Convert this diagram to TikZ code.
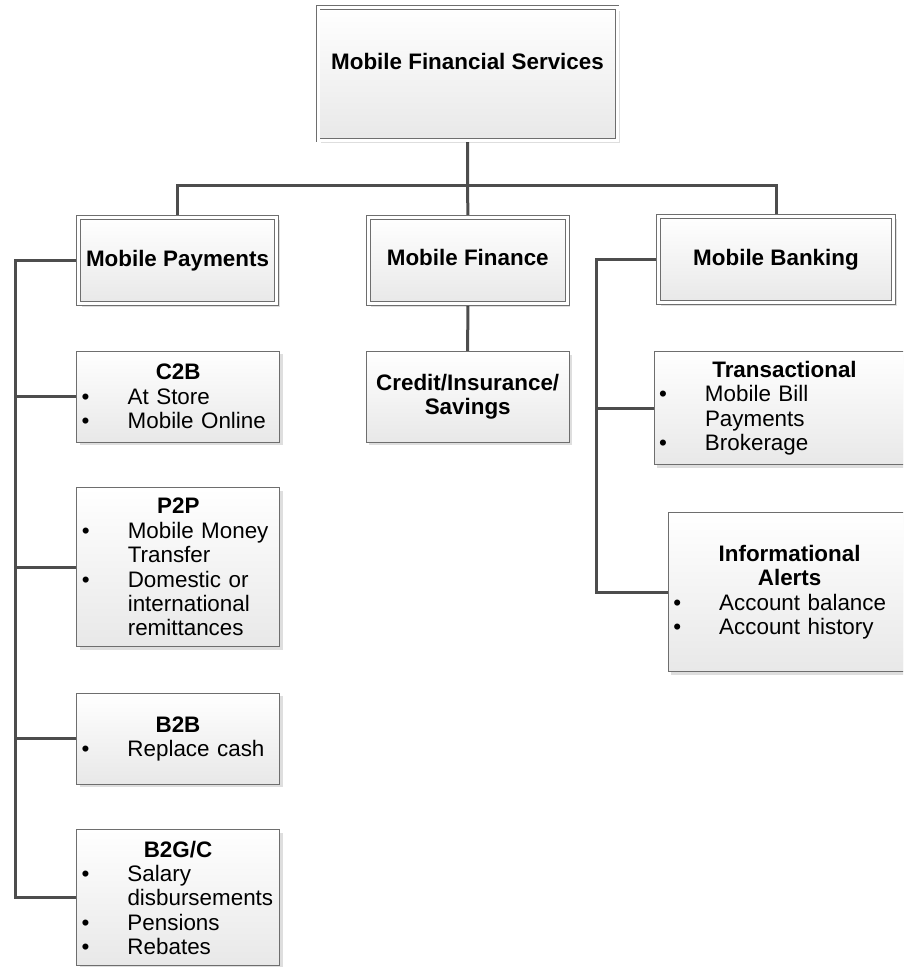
\documentclass[tikz,border=0pt]{standalone}
\usepackage{fontspec}
\setmainfont{Liberation Sans}
\usetikzlibrary{shadows,backgrounds}

\definecolor{linkgray}{HTML}{4D4D4D}
\definecolor{framegray}{HTML}{6E6E6E}
\newcommand\panelfont{\fontsize{22.4}{24.4}\selectfont}
\newcommand\boxhead[1]{\makebox[\hsize][c]{\bfseries #1}}
\newcommand\bul[1]{\makebox[\hsize][l]{\makebox[46pt][l]{\textbullet}#1}}
\newcommand\cont[1]{\makebox[\hsize][l]{\hspace*{46pt}#1}}

\tikzset{
  panel/.style={draw=framegray, top color=white, bottom color=black!9,
    drop shadow={shadow xshift=3pt, shadow yshift=-3pt, fill=black, opacity=.13},
    font=\panelfont},
  hub/.style={panel, line width=.9pt, double=white, double distance=3pt,
    minimum height=86.5pt, text height=16pt, text depth=5pt, font=\panelfont\bfseries},
  leaf/.style={panel, line width=1pt, inner xsep=5pt, inner ysep=0pt, align=left},
  link/.style={draw=linkgray, line width=3pt},
}

\begin{document}
\begin{tikzpicture}[x=1pt, y=-1pt]
  \useasboundingbox (0,0) rectangle (903,967);
  \clip (0,0) rectangle (903,967);

  % top and first level
  \node[hub, minimum width=299pt, minimum height=132.5pt, text depth=24pt] (mfs) at (467.5,73.75) {Mobile Financial Services};
  \node[hub, minimum width=198pt] (pay) at (177.5,260.5) {Mobile Payments};
  \node[hub, minimum width=199pt] (fin) at (467.8,260.4) {Mobile Finance};
  \node[hub, minimum width=235.5pt] (bank) at (776,259.5) {Mobile Banking};

  % payments
  \node[leaf, text width=193pt, minimum height=91pt] (c2b) at (178.2,396.5)
    {\boxhead{C2B}\\\bul{At Store}\\\bul{Mobile Online}};
  \node[leaf, text width=193pt, minimum height=159pt] (p2p) at (178.3,567.2)
    {\boxhead{P2P}\\\bul{Mobile Money}\\\cont{Transfer}\\\bul{Domestic or}\\\cont{international}\\\cont{remittances}};
  \node[leaf, text width=193pt, minimum height=90.7pt] (b2b) at (178,738.7)
    {\boxhead{B2B}\\\bul{Replace cash}};
  \node[leaf, text width=193pt, minimum height=135.7pt] (b2gc) at (178,897.8)
    {\boxhead{B2G/C}\\\bul{Salary}\\\cont{disbursements}\\\bul{Pensions}\\\bul{Rebates}};

  % finance
  \node[leaf, align=center, text width=193pt, minimum height=90.6pt, font=\panelfont\bfseries] (credit) at (467.7,397)
    {Credit/Insurance/\\Savings};

  % banking
  \node[leaf, text width=251pt, minimum height=113.3pt] (trans) at (784.5,408.3)
    {\boxhead{Transactional}\\\bul{Mobile Bill}\\\cont{Payments}\\\bul{Brokerage}};
  \node[leaf, text width=232.7pt, minimum height=159.4pt] (info) at (789.6,592)
    {\boxhead{Informational}\\\boxhead{Alerts}\\\bul{Account balance}\\\bul{Account history}};

  \begin{scope}[on background layer]
    \coordinate (bus) at (0,185);
    \coordinate (lrail) at (15.5,0);
    \coordinate (rrail) at (596.5,0);
    \draw[link] (mfs.south) -- (fin.north);
    \draw[link] (pay.north) |- (bus -| bank.north) -- (bank.north);
    \draw[link] (fin.south) -- (credit.north);
    \draw[link] (pay.west) -- (pay.west -| lrail) |- (b2gc.west);
    \foreach \leaf in {c2b,p2p,b2b}
      \draw[link] (\leaf.west) -- (\leaf.west -| lrail);
    \draw[link] (bank.west) -- (bank.west -| rrail) |- (info.west);
    \draw[link] (trans.west) -- (trans.west -| rrail);
  \end{scope}
\end{tikzpicture}
\end{document}
